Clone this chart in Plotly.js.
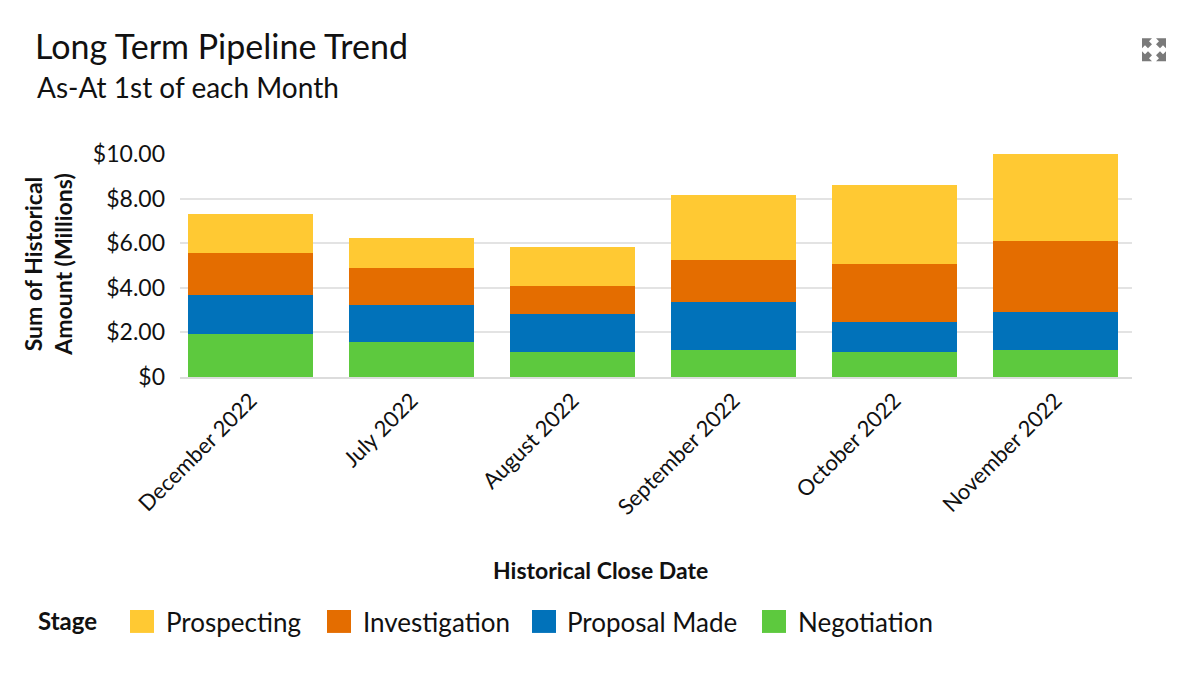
<!DOCTYPE html>
<html>
<head>
<meta charset="utf-8">
<script src="https://cdn.plot.ly/plotly-3.0.1.min.js"></script>
<style>html,body{margin:0;padding:0;background:#fff;}#chart{width:1200px;height:687px;}</style>
</head>
<body>
<div id="chart"></div>
<script>
const categories = ["December 2022", "July 2022", "August 2022", "September 2022", "October 2022", "November 2022"];
const negotiation = [1.94, 1.58, 1.14, 1.23, 1.14, 1.23];
const proposalMade = [1.73, 1.66, 1.69, 2.14, 1.32, 1.69];
const investigation = [1.87, 1.66, 1.24, 1.87, 2.60, 3.20];
const prospecting = [1.79, 1.32, 1.75, 2.91, 3.54, 3.88];
const tickVals = [0, 2, 4, 6, 8, 10];
const tickText = ["$0", "$2.00", "$4.00", "$6.00", "$8.00", "$10.00"];

const seriesNames = ["Prospecting", "Investigation", "Proposal Made", "Negotiation"];
const seriesColors = ["#FFC933", "#E46D00", "#0172BA", "#5DC93E"];
const seriesValues = [prospecting, investigation, proposalMade, negotiation];

const FONT = "Lato, 'Open Sans', sans-serif";
const INK = "#111111";

// stacking order bottom -> top
const order = [3, 2, 1, 0];
const traces = order.map(i => ({
  type: "bar",
  name: seriesNames[i],
  x: categories,
  y: seriesValues[i],
  marker: {color: seriesColors[i], line: {width: 0}},
  showlegend: false,
  hovertemplate: "%{x}<br>" + seriesNames[i] + ": $%{y:.2f}M<extra></extra>"
}));

const L = 180, R = 1132, T = 154, B = 377.5, W = 1200, H = 687;
const px = v => (v - L) / (R - L);
const py = v => (B - v) / (B - T);

const shapes = [];
const annotations = [];

// custom legend (large square swatches)
const legendSquares = [130, 327, 532, 762];
const legendTexts = [166, 363, 567, 798];
annotations.push({xref: "paper", yref: "paper", x: px(36), y: py(622), xanchor: "left", yanchor: "middle",
  text: "<b>Stage</b>", showarrow: false, font: {family: FONT, size: 24, color: INK}});
seriesNames.forEach((n, i) => {
  shapes.push({type: "rect", xref: "paper", yref: "paper", x0: px(legendSquares[i]), x1: px(legendSquares[i] + 24),
    y0: py(634), y1: py(611), fillcolor: seriesColors[i], line: {width: 0}});
  annotations.push({xref: "paper", yref: "paper", x: px(legendTexts[i] - 2), y: py(623), xanchor: "left", yanchor: "middle",
    text: n, showarrow: false, font: {family: FONT, size: 26, color: INK}});
});

// axis titles
annotations.push({xref: "paper", yref: "paper", x: px(600), y: py(571), xanchor: "center", yanchor: "middle",
  text: "<b>Historical Close Date</b>", showarrow: false, font: {family: FONT, size: 23, color: INK}});
annotations.push({xref: "paper", yref: "paper", x: px(48), y: py(265), xanchor: "center", yanchor: "middle",
  text: "<b>Sum of Historical<br>Amount (Millions)</b>", textangle: -90, showarrow: false,
  font: {family: FONT, size: 23, color: INK}});

// subtitle
annotations.push({xref: "paper", yref: "paper", x: px(35), y: py(87), xanchor: "left", yanchor: "middle",
  text: "As-At 1st of each Month", showarrow: false, font: {family: FONT, size: 28, color: INK}});

// expand icon (decorative): four corner arrows
const P = (x, y) => `${px(x)},${py(y)}`;
const arrow = (cx, cy, sx, sy) => {
  // corner (cx,cy), pointing outward in direction (sx,sy)
  const pts = [
    [cx, cy], [cx - sx * 10, cy], [cx - sx * 7, cy - sy * 3], [cx - sx * 10, cy - sy * 6],
    [cx - sx * 6, cy - sy * 10], [cx - sx * 3, cy - sy * 7], [cx, cy - sy * 10]
  ];
  return {type: "path", xref: "paper", yref: "paper",
    path: "M" + pts.map(p => P(p[0], p[1])).join("L") + "Z", fillcolor: "#7a7a7a", line: {width: 0}};
};
shapes.push(arrow(1142, 38, -1, -1), arrow(1166, 38, 1, -1), arrow(1142, 61, -1, 1), arrow(1166, 61, 1, 1));

const layout = {
  width: W, height: H,
  margin: {l: L, r: W - R, t: T, b: H - B, pad: 0},
  paper_bgcolor: "#fff", plot_bgcolor: "#fff",
  barmode: "stack",
  bargap: 0.22,
  title: {text: "Long Term Pipeline Trend", x: 35 / W, xanchor: "left", xref: "container",
    y: 1 - 47 / H, yref: "container", yanchor: "middle",
    font: {family: FONT, size: 34, color: INK}},
  font: {family: FONT, color: INK},
  xaxis: {type: "category", range: [-0.438, 5.475], tickangle: -45, tickfont: {family: FONT, size: 22, color: INK},
    showline: true, linecolor: "#dcdcdc", linewidth: 2, ticks: "", showgrid: false, automargin: false, fixedrange: true},
  yaxis: {range: [0, 10], tickvals: tickVals, ticktext: tickText, tickfont: {family: FONT, size: 23, color: INK},
    showgrid: true, gridcolor: "#e3e3e3", gridwidth: 2, zeroline: false, ticks: "", ticklen: 0,
    ticklabelstandoff: 14, automargin: false, fixedrange: true},
  shapes: shapes,
  annotations: annotations
};

Plotly.newPlot("chart", traces, layout, {displayModeBar: false, responsive: false});
</script>
</body>
</html>
